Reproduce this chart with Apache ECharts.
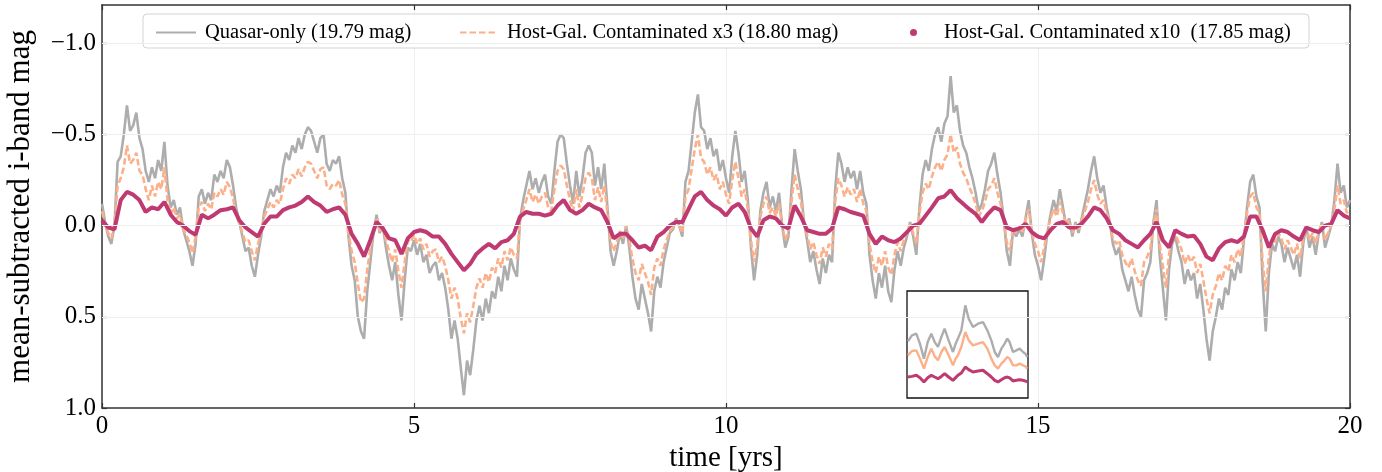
<!DOCTYPE html>
<html><head><meta charset="utf-8">
<script src="https://cdn.jsdelivr.net/npm/echarts@6/dist/echarts.min.js"></script>
<style>html,body{margin:0;padding:0;background:#fff}#c{width:1382px;height:472px}</style>
</head><body><div id="c"></div>
<script>
// time step of the fine series (yrs)
const stepFine = 0.05;
const stepCoarse = 0.1;

// Quasar-only light curve (mean-subtracted i-band mag), every 0.05 yr from 0 to 20
const quasarOnly = [
-0.12,-0.02,0.06,0.10,0.00,-0.35,-0.38,-0.50,-0.66,-0.52,-0.55,-0.62,-0.48,-0.42,-0.30,-0.24,-0.32,-0.26,-0.36,-0.30,
-0.46,-0.22,-0.10,-0.14,-0.06,-0.10,0.02,0.08,0.14,0.22,0.10,-0.16,-0.20,-0.12,-0.18,-0.14,-0.28,-0.24,-0.30,-0.26,
-0.36,-0.32,-0.22,-0.10,-0.02,0.06,0.14,0.12,0.22,0.28,0.16,0.06,-0.08,-0.14,-0.20,-0.16,-0.22,-0.18,-0.32,-0.40,
-0.36,-0.44,-0.40,-0.48,-0.42,-0.50,-0.54,-0.52,-0.46,-0.40,-0.48,-0.50,-0.34,-0.30,-0.36,-0.34,-0.38,-0.26,-0.18,0.06,
0.22,0.30,0.50,0.58,0.62,0.36,0.20,0.04,-0.06,0.04,0.00,0.12,0.22,0.30,0.20,0.38,0.52,0.30,0.12,0.14,
0.08,0.16,0.10,0.20,0.16,0.26,0.22,0.20,0.30,0.26,0.34,0.46,0.62,0.52,0.62,0.78,0.93,0.74,0.82,0.68,
0.52,0.44,0.52,0.40,0.48,0.36,0.40,0.28,0.36,0.22,0.30,0.18,0.24,0.28,-0.04,-0.14,-0.22,-0.30,-0.20,-0.26,
-0.18,-0.24,-0.28,-0.16,-0.12,-0.30,-0.46,-0.50,-0.48,-0.34,-0.22,-0.12,-0.30,-0.16,-0.26,-0.40,-0.44,-0.40,-0.22,-0.32,
-0.20,-0.34,-0.10,0.14,0.22,0.14,0.04,0.10,0.00,0.12,0.28,0.40,0.46,0.32,0.40,0.48,0.58,0.36,0.28,0.34,
0.20,0.12,0.04,0.02,-0.04,0.00,0.06,-0.24,-0.30,-0.46,-0.62,-0.72,-0.54,-0.52,-0.42,-0.48,-0.38,-0.42,-0.30,-0.36,
-0.26,-0.18,-0.38,-0.52,-0.40,-0.24,-0.30,-0.14,0.12,0.30,0.16,-0.08,-0.18,-0.24,-0.10,-0.16,-0.08,-0.18,0.00,0.12,
0.06,-0.20,-0.42,-0.30,-0.20,-0.02,0.08,0.20,0.14,0.24,0.32,0.18,0.26,0.16,0.20,-0.20,-0.40,-0.34,-0.24,-0.32,
-0.26,-0.30,-0.20,-0.30,-0.18,-0.12,0.16,0.30,0.40,0.26,0.34,0.22,0.36,0.42,0.24,0.14,0.22,0.12,0.06,-0.02,
0.06,0.16,-0.10,-0.28,-0.36,-0.30,-0.42,-0.50,-0.54,-0.46,-0.56,-0.60,-0.82,-0.62,-0.66,-0.52,-0.44,-0.40,-0.32,-0.26,
-0.18,-0.08,-0.12,-0.20,-0.30,-0.34,-0.40,-0.28,-0.18,-0.04,0.14,0.22,0.02,0.06,0.02,0.06,-0.04,-0.14,0.04,0.16,
0.22,0.30,0.18,0.04,-0.06,-0.14,-0.08,-0.20,-0.10,0.00,-0.04,0.06,-0.02,0.04,-0.04,-0.12,-0.20,-0.30,-0.38,-0.26,
-0.18,-0.22,-0.10,-0.02,0.10,0.16,0.12,0.24,0.30,0.36,0.28,0.38,0.46,0.50,0.30,0.26,0.20,-0.02,-0.14,0.16,
0.34,0.52,0.24,0.10,0.06,0.14,0.20,0.32,0.24,0.30,0.26,0.40,0.32,0.46,0.62,0.74,0.58,0.50,0.40,0.46,
0.34,0.38,0.24,0.30,0.20,0.26,0.08,-0.10,-0.24,-0.28,-0.16,-0.10,0.30,0.58,0.26,0.10,0.14,0.06,0.10,0.20,
0.12,0.18,0.24,0.16,0.28,0.10,0.00,0.12,0.06,0.16,0.04,-0.02,0.12,0.06,0.00,-0.14,-0.34,-0.18,-0.22,-0.10,
-0.14
];

// Host-galaxy contaminated x3, every 0.05 yr
const hostX3 = [
-0.08,0.00,0.04,0.07,0.00,-0.22,-0.26,-0.32,-0.44,-0.34,-0.36,-0.40,-0.30,-0.28,-0.20,-0.14,-0.22,-0.16,-0.24,-0.20,
-0.32,-0.14,-0.06,-0.10,-0.04,-0.06,0.02,0.05,0.09,0.15,0.06,-0.10,-0.13,-0.08,-0.12,-0.09,-0.18,-0.16,-0.20,-0.17,
-0.24,-0.21,-0.15,-0.06,-0.01,0.04,0.09,0.08,0.14,0.19,0.10,0.04,-0.05,-0.09,-0.13,-0.10,-0.14,-0.12,-0.20,-0.26,
-0.23,-0.28,-0.26,-0.31,-0.27,-0.32,-0.35,-0.34,-0.30,-0.26,-0.31,-0.32,-0.22,-0.20,-0.23,-0.22,-0.25,-0.17,-0.12,0.04,
0.14,0.20,0.32,0.42,0.40,0.24,0.13,0.02,-0.04,0.03,0.00,0.08,0.14,0.20,0.13,0.25,0.34,0.20,0.08,0.09,
0.05,0.10,0.07,0.13,0.10,0.17,0.14,0.13,0.20,0.17,0.22,0.30,0.40,0.34,0.40,0.51,0.59,0.48,0.53,0.44,
0.34,0.29,0.34,0.26,0.31,0.23,0.26,0.18,0.23,0.14,0.19,0.12,0.16,0.18,-0.03,-0.09,-0.14,-0.20,-0.13,-0.17,
-0.12,-0.16,-0.18,-0.10,-0.08,-0.20,-0.30,-0.33,-0.31,-0.22,-0.14,-0.08,-0.20,-0.10,-0.17,-0.26,-0.29,-0.26,-0.14,-0.21,
-0.13,-0.22,-0.07,0.09,0.14,0.09,0.03,0.07,0.00,0.08,0.18,0.26,0.30,0.21,0.26,0.31,0.38,0.23,0.18,0.22,
0.13,0.08,0.03,0.01,-0.03,0.00,0.04,-0.16,-0.20,-0.31,-0.42,-0.50,-0.37,-0.35,-0.28,-0.32,-0.25,-0.28,-0.20,-0.24,
-0.17,-0.12,-0.25,-0.35,-0.26,-0.16,-0.20,-0.09,0.08,0.20,0.10,-0.05,-0.12,-0.16,-0.07,-0.10,-0.05,-0.12,0.00,0.08,
0.04,-0.13,-0.28,-0.20,-0.13,-0.01,0.05,0.13,0.09,0.16,0.21,0.12,0.17,0.10,0.13,-0.13,-0.26,-0.22,-0.16,-0.21,
-0.17,-0.20,-0.13,-0.20,-0.12,-0.08,0.10,0.20,0.26,0.17,0.22,0.14,0.23,0.27,0.16,0.09,0.14,0.08,0.04,-0.01,
0.04,0.10,-0.07,-0.18,-0.23,-0.20,-0.27,-0.32,-0.35,-0.30,-0.36,-0.39,-0.50,-0.40,-0.43,-0.34,-0.29,-0.26,-0.21,-0.17,
-0.12,-0.05,-0.08,-0.13,-0.20,-0.22,-0.26,-0.18,-0.12,-0.03,0.09,0.14,0.01,0.04,0.01,0.04,-0.03,-0.09,0.03,0.10,
0.14,0.20,0.12,0.03,-0.04,-0.09,-0.05,-0.13,-0.07,0.00,-0.03,0.04,-0.01,0.03,-0.03,-0.08,-0.13,-0.20,-0.25,-0.17,
-0.12,-0.14,-0.07,-0.01,0.07,0.10,0.08,0.16,0.20,0.23,0.18,0.25,0.30,0.33,0.20,0.17,0.13,-0.01,-0.09,0.10,
0.22,0.34,0.16,0.07,0.04,0.09,0.13,0.21,0.16,0.20,0.17,0.26,0.21,0.30,0.40,0.48,0.38,0.33,0.26,0.30,
0.22,0.25,0.16,0.20,0.13,0.17,0.05,-0.07,-0.16,-0.18,-0.10,-0.07,0.20,0.36,0.17,0.07,0.09,0.04,0.07,0.13,
0.08,0.12,0.16,0.10,0.18,0.07,0.00,0.08,0.04,0.10,0.03,-0.01,0.08,0.04,0.00,-0.09,-0.22,-0.12,-0.14,-0.07,
-0.09
];

// Host-galaxy contaminated x10, every 0.1 yr
const hostX10 = [
-0.03,0.01,0.02,-0.14,-0.185,-0.17,-0.14,-0.075,-0.10,-0.09,
-0.13,-0.06,-0.02,0.00,0.03,0.05,-0.06,-0.04,-0.06,-0.085,
-0.09,-0.10,-0.03,0.01,0.035,0.06,-0.01,-0.05,-0.05,-0.085,
-0.10,-0.11,-0.13,-0.16,-0.13,-0.11,-0.075,-0.09,-0.10,-0.06,
0.045,0.10,0.17,0.08,-0.02,0.015,0.07,0.08,0.155,0.07,
0.035,0.025,0.035,0.06,0.06,0.10,0.155,0.20,0.245,0.21,
0.155,0.125,0.10,0.125,0.09,0.08,0.045,-0.05,-0.075,-0.065,
-0.065,-0.055,-0.065,-0.11,-0.14,-0.085,-0.065,-0.085,-0.12,-0.10,
-0.085,-0.02,0.07,0.045,0.045,0.08,0.12,0.11,0.135,0.06,
0.035,0.00,-0.02,-0.02,-0.09,-0.16,-0.185,-0.14,-0.11,-0.09,
-0.055,-0.10,-0.12,-0.075,0.015,0.06,-0.03,-0.05,-0.04,0.00,
0.015,-0.11,-0.05,0.025,0.035,0.045,0.045,0.015,-0.10,-0.09,
-0.075,-0.065,-0.055,0.045,0.10,0.06,0.08,0.09,0.07,0.035,
0.00,-0.01,-0.055,-0.10,-0.15,-0.16,-0.195,-0.15,-0.12,-0.09,
-0.065,-0.02,-0.065,-0.10,-0.085,0.01,0.025,0.015,-0.01,0.035,
0.06,0.07,0.025,-0.01,-0.02,0.01,0.01,-0.01,-0.05,-0.10,
-0.085,-0.04,0.025,0.045,0.08,0.10,0.12,0.08,0.045,-0.02,
0.08,0.12,0.025,0.045,0.06,0.055,0.10,0.17,0.19,0.125,
0.09,0.08,0.09,0.06,-0.05,-0.05,0.025,0.12,0.045,0.025,
0.035,0.06,0.08,0.01,0.025,0.035,0.00,-0.01,-0.085,-0.055,
-0.04
];

// Inset (zoomed segment, arbitrary normalised units, no axes shown)
const insetTime = [0.008,0.041,0.077,0.107,0.140,0.171,0.201,0.229,0.256,0.284,0.311,0.344,0.380,0.402,0.421,0.449,0.482,0.510,0.545,0.587,0.628,0.664,0.697,0.725,0.752,0.780,0.807,0.829,0.848,0.876,0.904,0.931,0.959,0.978,0.994];
const insetQuasar = [0.470,0.414,0.399,0.492,0.632,0.477,0.399,0.477,0.523,0.430,0.352,0.461,0.570,0.492,0.445,0.368,0.134,0.259,0.336,0.305,0.290,0.368,0.461,0.570,0.617,0.539,0.492,0.445,0.477,0.570,0.555,0.539,0.570,0.586,0.617];
const insetX3 = [0.601,0.561,0.555,0.632,0.726,0.617,0.539,0.611,0.648,0.570,0.523,0.601,0.695,0.632,0.601,0.523,0.383,0.461,0.508,0.492,0.477,0.539,0.632,0.695,0.726,0.679,0.648,0.617,0.632,0.695,0.695,0.679,0.695,0.704,0.726];
const insetX10 = [0.804,0.798,0.788,0.810,0.850,0.810,0.788,0.804,0.819,0.798,0.773,0.804,0.835,0.810,0.788,0.766,0.710,0.735,0.757,0.748,0.741,0.773,0.804,0.835,0.850,0.829,0.810,0.804,0.813,0.841,0.835,0.829,0.835,0.841,0.850];

const yTicks = [-1.0, -0.5, 0.0, 0.5, 1.0];
const yGridLines = [-1.0, -0.5, 0.0, 0.5];
const legendNames = ['Quasar-only (19.79 mag)', 'Host-Gal. Contaminated x3 (18.80 mag)', 'Host-Gal. Contaminated x10  (17.85 mag)'];

const FONT = 'Liberation Serif';
const C_GRAY = '#adadad', C_ORANGE = '#fcb08a', C_MAG = '#c03a72', C_AX = '#333333';

const pairs = (arr, step) => arr.map((v, i) => [+(i * step).toFixed(2), v]);
const zipInset = arr => arr.map((v, i) => [insetTime[i], v]);
const fmtY = v => (v < 0 ? '\u2212' : '') + Math.abs(v).toFixed(1);

const axLine = {onZero: false, lineStyle: {color: C_AX, width: 1.5}};
const tickIn = {inside: true, length: 5, lineStyle: {color: C_AX, width: 1.2}};
const legText = pad => ({fontFamily: FONT, fontSize: 20.5, color: '#000', padding: [0, 0, 0, pad]});

const chart = echarts.init(document.getElementById('c'), null, {renderer: 'canvas'});
chart.setOption({
  animation: false,
  backgroundColor: '#fff',
  grid: [
    {left: 102, right: 32, top: 5, bottom: 64, outerBoundsMode: 'none', containLabel: false},
    {left: 907, top: 291, width: 121, height: 107, outerBoundsMode: 'none', containLabel: false,
     show: true, borderColor: '#111', borderWidth: 1.3, backgroundColor: '#fff', z: 3}
  ],
  xAxis: [
    {type: 'value', gridIndex: 0, min: 0, max: 20, interval: 5, position: 'bottom',
     axisLine: axLine, axisTick: tickIn,
     axisLabel: {fontFamily: FONT, fontSize: 25, color: '#000', margin: 6},
     splitLine: {show: true, lineStyle: {color: '#eeeeee', width: 1}},
     name: 'time [yrs]', nameLocation: 'middle', nameGap: 36,
     nameTextStyle: {fontFamily: FONT, fontSize: 29, color: '#000'}},
    {type: 'value', gridIndex: 0, min: 0, max: 20, interval: 5, position: 'top',
     axisLine: axLine, axisTick: tickIn, axisLabel: {show: false}, splitLine: {show: false}},
    {type: 'value', gridIndex: 1, min: 0, max: 1, show: false}
  ],
  yAxis: [
    {type: 'value', gridIndex: 0, min: -1.21, max: 1.0, inverse: true, position: 'left',
     axisLine: axLine,
     axisTick: Object.assign({customValues: yTicks}, tickIn),
     axisLabel: {customValues: yTicks, formatter: fmtY, fontFamily: FONT, fontSize: 25, color: '#000', margin: 6},
     splitLine: {show: false},
     name: 'mean-subtracted i-band mag', nameLocation: 'middle', nameRotate: 90, nameGap: 66,
     nameTextStyle: {fontFamily: FONT, fontSize: 31, color: '#000'}},
    {type: 'value', gridIndex: 0, min: -1.21, max: 1.0, inverse: true, position: 'right',
     axisLine: axLine,
     axisTick: Object.assign({customValues: yTicks}, tickIn),
     axisLabel: {show: false}, splitLine: {show: false}},
    {type: 'value', gridIndex: 1, min: 0, max: 1, inverse: true, show: false}
  ],
  legend: [
    {data: [legendNames[0]], left: 150, top: 17, itemWidth: 40, itemHeight: 14, selectedMode: false,
     itemStyle: {opacity: 0}, textStyle: legText(4)},
    {data: [legendNames[1]], left: 454, top: 17, itemWidth: 38, itemHeight: 14, selectedMode: false,
     itemStyle: {opacity: 0}, textStyle: legText(4)},
    {data: [{name: legendNames[2], icon: 'circle'}], left: 905, top: 17, itemWidth: 7, itemHeight: 7, selectedMode: false,
     textStyle: legText(22)}
  ],
  graphic: {elements: [
    {type: 'rect', z: 3, shape: {x: 143, y: 14, width: 1166, height: 34, r: 4},
     style: {fill: 'rgba(255,255,255,0.85)', stroke: '#d3d3d3', lineWidth: 1}}
  ]},
  series: [
    {type: 'line', name: 'grid', xAxisIndex: 0, yAxisIndex: 0, data: [], z: 1, silent: true,
     markLine: {silent: true, symbol: ['none', 'none'], label: {show: false},
       lineStyle: {color: '#eeeeee', width: 1, type: 'solid'},
       data: yGridLines.map(v => ({yAxis: v}))}},
    {type: 'line', name: legendNames[0], xAxisIndex: 0, yAxisIndex: 0, data: pairs(quasarOnly, stepFine),
     symbol: 'none', showSymbol: false, z: 2,
     lineStyle: {color: C_GRAY, width: 2.6}, itemStyle: {color: C_GRAY}},
    {type: 'line', name: legendNames[1], xAxisIndex: 0, yAxisIndex: 0, data: pairs(hostX3, stepFine),
     symbol: 'none', showSymbol: false, z: 2,
     lineStyle: {color: C_ORANGE, width: 2.6, type: [6.5, 3]}, itemStyle: {color: C_ORANGE}},
    {type: 'line', name: legendNames[2], xAxisIndex: 0, yAxisIndex: 0, data: pairs(hostX10, stepCoarse),
     symbol: 'none', showSymbol: false, z: 2,
     lineStyle: {color: C_MAG, width: 4}, itemStyle: {color: C_MAG}},
    {type: 'line', name: 'inset-q', xAxisIndex: 2, yAxisIndex: 2, data: zipInset(insetQuasar),
     symbol: 'none', z: 5, lineStyle: {color: C_GRAY, width: 2.4}},
    {type: 'line', name: 'inset-3', xAxisIndex: 2, yAxisIndex: 2, data: zipInset(insetX3),
     symbol: 'none', z: 5, lineStyle: {color: C_ORANGE, width: 2.4}},
    {type: 'line', name: 'inset-10', xAxisIndex: 2, yAxisIndex: 2, data: zipInset(insetX10),
     symbol: 'none', z: 5, lineStyle: {color: C_MAG, width: 3}}
  ]
});
</script></body></html>
